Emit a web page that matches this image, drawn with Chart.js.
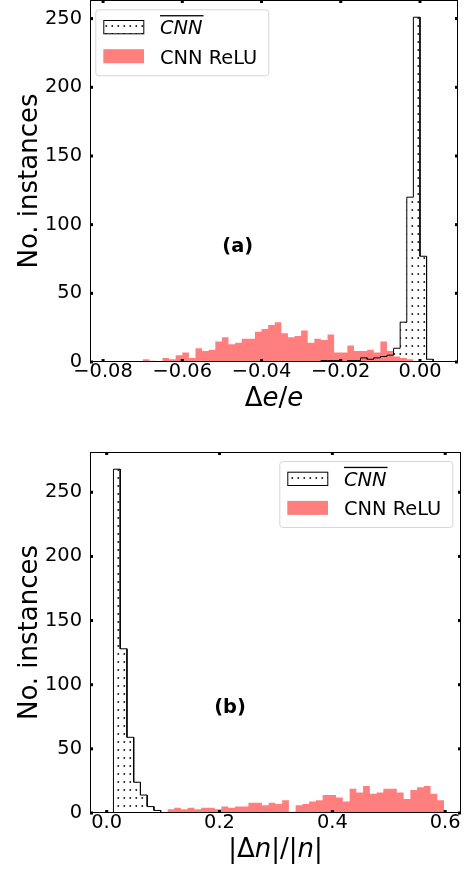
<!DOCTYPE html>
<html>
<head>
<meta charset="utf-8">
<script src="https://cdn.jsdelivr.net/npm/chart.js@4.4.0/dist/chart.umd.min.js"></script>
<style>
  html, body { margin: 0; padding: 0; background: #fff; }
  body { width: 465px; height: 869px; position: relative; overflow: hidden; }
  #wrapA { position: absolute; left: 0; top: 0; width: 465px; height: 420px; }
  #wrapB { position: absolute; left: 0; top: 420px; width: 465px; height: 449px; }
</style>
</head>
<body>
<div id="wrapA"><canvas id="chartA" width="465" height="420"></canvas></div>
<div id="wrapB"><canvas id="chartB" width="465" height="449"></canvas></div>
<script>
// ---- panel (a): relative energy error, 50 bins shared by both series
const binStartA = -0.08;
const binWidthA = 1 / 600;
const cnnFirstBinA = 0;
const cnnA = [0,0,0,0,0,0,0,0,0,0, 0,0,0,0,0,0,0,0,0,0, 0,0,0,0,0,0,0,0,0,0,
              0,0,0,1,1,1,0,1,1,3, 2,3,4,5,10,29,120,251,77,2];
const reluFirstBinA = 6;
const reluA = [2,1,0,3,2,5,7,3,10,8,9,15,18,13,14,17,17,22,24,27,29,21,18,19,23,
               14,17,16,20,7,7,12,8,8,9,7,15,8,4,3,2];
const xTicksA = [-0.08, -0.06, -0.04, -0.02, 0.00];
const xTickLabelsA = ['\u22120.08', '\u22120.06', '\u22120.04', '\u22120.02', '0.00'];

// ---- panel (b): relative norm error
const binStartB = 0;
const binWidthB = 0.598 / 50;
const cnnFirstBinB = 0;
const cnnB = [0, 268, 128, 59, 24, 14, 5, 2];
const reluFirstBinB = 9;
const reluB = [3,4,3,4,3,4,4,3,5,4,5,5,8,8,6,8,7,10,1,6,7,9,10,14,14,12,9,19,16,21,
               15,16,19,19,16,11,18,20,21,15,10];
const xTicksB = [0.0, 0.2, 0.4, 0.6];
const xTickLabelsB = ['0.0', '0.2', '0.4', '0.6'];

const yTicks = [0, 50, 100, 150, 200, 250];
const yTickLabels = ['0', '50', '100', '150', '200', '250'];
const seriesNames = ['CNN', 'CNN ReLU'];

const FAM = '"DejaVu Sans"';
const tickFont = { family: 'DejaVu Sans', size: 19.4 };

// histogram counts -> outline points (left/right edge of every bin)
function stepPoints(counts, start, width, firstBin) {
    const pts = [];
    counts.forEach((c, i) => {
        const x0 = start + (firstBin + i) * width;
        pts.push({ x: x0, y: c }, { x: x0 + width, y: c });
    });
    pts.unshift({ x: pts[0].x, y: 0 });
    pts.push({ x: pts[pts.length - 1].x, y: 0 });
    return pts;
}

// '.' hatch: small dots, 6px across, 8px down
function dotPattern(ctx) {
    const c = document.createElement('canvas');
    c.width = 6; c.height = 8;
    const g = c.getContext('2d');
    g.fillStyle = '#000';
    g.fillRect(3.5, 1.2, 1.6, 1.6);
    return ctx.createPattern(c, 'repeat');
}

function richText(ctx, parts, x, y, size, align) {
    let w = 0;
    parts.forEach(p => { ctx.font = `${p[1]} ${size}px ${FAM}`; w += ctx.measureText(p[0]).width; });
    let cx = align === 'center' ? x - w / 2 : x;
    parts.forEach(p => {
        ctx.font = `${p[1]} ${size}px ${FAM}`;
        ctx.fillText(p[0], cx, y);
        cx += ctx.measureText(p[0]).width;
    });
    return w;
}

function drawLegend(ctx, bx, by, pattern) {
    ctx.save();
    ctx.beginPath();
    ctx.roundRect(bx + 0.5, by + 0.5, 173, 66, 3);
    ctx.fillStyle = 'rgba(255,255,255,0.8)';
    ctx.fill();
    ctx.strokeStyle = '#d6d6d6';
    ctx.lineWidth = 1;
    ctx.stroke();

    // hatched patch
    ctx.fillStyle = pattern;
    ctx.fillRect(bx + 8, by + 10.7, 40.7, 14);
    ctx.strokeStyle = '#000';
    ctx.strokeRect(bx + 8.5, by + 11.2, 40, 13.3);
    // red patch
    ctx.fillStyle = 'rgba(255,0,0,0.5)';
    ctx.fillRect(bx + 8, by + 39.9, 40.7, 14);

    ctx.fillStyle = '#000';
    ctx.textAlign = 'left';
    ctx.textBaseline = 'alphabetic';
    const w = richText(ctx, [[seriesNames[0], 'italic']], bx + 64.7, by + 25, 19.4, 'left');
    ctx.fillRect(bx + 64.7, by + 5.8, w + 1, 1.3);
    richText(ctx, [[seriesNames[1], 'normal']], bx + 64.7, by + 54.2, 19.4, 'left');
    ctx.restore();
}

function decor(opts) {
    return {
        id: 'decor',
        afterDatasetsDraw(chart) {
            const { ctx, chartArea: a, scales: { x, y } } = chart;
            ctx.save();
            // frame
            ctx.strokeStyle = '#000';
            ctx.lineWidth = 1;
            ctx.strokeRect(Math.round(a.left) + 0.5, Math.round(a.top) + 0.5,
                Math.round(a.right - a.left) - 1, Math.round(a.bottom - a.top) - 1);
            // inward tick marks on all four sides
            ctx.fillStyle = '#000';
            opts.xTicks.forEach(v => {
                const px = x.getPixelForValue(v);
                ctx.fillRect(px - 1.5, a.bottom - 3, 3, 3);
                ctx.fillRect(px - 1.5, a.top, 3, 3);
            });
            yTicks.forEach(v => {
                const py = y.getPixelForValue(v);
                ctx.fillRect(a.left, py - 1.5, 3, 3);
                ctx.fillRect(a.right - 3, py - 1.5, 3, 3);
            });
            // panel tag
            ctx.font = `bold 19.4px ${FAM}`;
            ctx.textAlign = 'center';
            ctx.textBaseline = 'middle';
            ctx.fillText(opts.tag, x.getPixelForValue(opts.tagAt[0]), y.getPixelForValue(opts.tagAt[1]));
            // legend
            drawLegend(ctx, opts.legendAt[0], opts.legendAt[1], opts.pattern);
            // axis titles
            ctx.textAlign = 'left';
            ctx.textBaseline = 'alphabetic';
            richText(ctx, opts.xTitle, (a.left + a.right) / 2, a.bottom + 43.7, 26, 'center');
            ctx.translate(36.7, (a.top + a.bottom) / 2);
            ctx.rotate(-Math.PI / 2);
            richText(ctx, [['No. instances', 'normal']], 0, 0, 26, 'center');
            ctx.restore();
        }
    };
}

function makeChart(id, p) {
    const canvas = document.getElementById(id);
    const ctx = canvas.getContext('2d');
    const pattern = dotPattern(ctx);
    const H = canvas.height;
    return new Chart(ctx, {
        type: 'line',
        data: {
            datasets: [{
                label: seriesNames[0],
                data: stepPoints(p.cnn, p.binStart, p.binWidth, p.cnnFirstBin),
                borderColor: '#000',
                borderWidth: 1,
                backgroundColor: pattern,
                fill: 'origin',
                pointRadius: 0,
                order: 0
            }, {
                label: seriesNames[1],
                data: stepPoints(p.relu, p.binStart, p.binWidth, p.reluFirstBin),
                borderWidth: 0,
                borderColor: 'rgba(255,0,0,0)',
                backgroundColor: 'rgba(255,0,0,0.5)',
                fill: 'origin',
                pointRadius: 0,
                order: 1
            }]
        },
        options: {
            responsive: false,
            maintainAspectRatio: false,
            animation: false,
            layout: { padding: { top: p.top, right: p.right, left: 0, bottom: 0 } },
            elements: { line: { tension: 0 } },
            plugins: { legend: { display: false }, tooltip: { enabled: false } },
            scales: {
                x: {
                    type: 'linear',
                    min: p.xMin,
                    max: p.xMax,
                    grid: { display: false, drawTicks: false },
                    border: { display: false },
                    ticks: {
                        font: tickFont, color: '#000', padding: -2,
                        maxRotation: 0, autoSkip: false,
                        callback: (v, i) => p.xTickLabels[i]
                    },
                    afterBuildTicks: s => { s.ticks = p.xTicks.map(v => ({ value: v })); },
                    afterFit: s => { s.height = H - p.bottom; s.paddingLeft = 0; s.paddingRight = 0; }
                },
                y: {
                    min: 0,
                    max: p.yMax,
                    grid: { display: false, drawTicks: false },
                    border: { display: false },
                    ticks: {
                        font: tickFont, color: '#000', padding: 8,
                        callback: (v, i) => yTickLabels[i]
                    },
                    afterBuildTicks: s => { s.ticks = yTicks.map(v => ({ value: v })); },
                    afterFit: s => { s.width = 90; s.paddingTop = 0; s.paddingBottom = 0; }
                }
            }
        },
        plugins: [decor({
            xTicks: p.xTicks, tag: p.tag, tagAt: p.tagAt, legendAt: p.legendAt,
            pattern: pattern, xTitle: p.xTitle
        })]
    });
}

makeChart('chartA', {
    cnn: cnnA, relu: reluA, binStart: binStartA, binWidth: binWidthA,
    cnnFirstBin: cnnFirstBinA, reluFirstBin: reluFirstBinA,
    xMin: -0.0833, xMax: 0.0096, yMax: 251 * 1.05,
    xTicks: xTicksA, xTickLabels: xTickLabelsA,
    top: 0, right: 7, bottom: 362,
    tag: '(a)', tagAt: [-0.046, 84],
    legendAt: [95.3, 9.3],
    xTitle: [['\u0394', 'normal'], ['e', 'italic'], ['/', 'normal'], ['e', 'italic']]
});

makeChart('chartB', {
    cnn: cnnB, relu: reluB, binStart: binStartB, binWidth: binWidthB,
    cnnFirstBin: cnnFirstBinB, reluFirstBin: reluFirstBinB,
    xMin: -0.0296, xMax: 0.628, yMax: 268 * 1.05,
    xTicks: xTicksB, xTickLabels: xTickLabelsB,
    top: 32, right: 4, bottom: 393,
    tag: '(b)', tagAt: [0.2186, 81.5],
    legendAt: [279.3, 41],
    xTitle: [['|', 'normal'], ['\u0394', 'normal'], ['n', 'italic'], ['|/|', 'normal'], ['n', 'italic'], ['|', 'normal']]
});
</script>
</body>
</html>
